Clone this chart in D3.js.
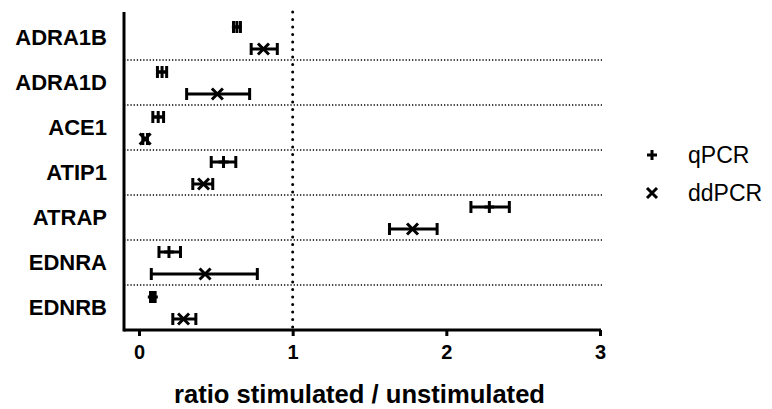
<!DOCTYPE html>
<html>
<head>
<meta charset="utf-8">
<script src="https://cdn.jsdelivr.net/npm/d3@7"></script>
<style>
  body { margin: 0; background: #fff; }
  svg { font-family: "Liberation Sans", Arial, sans-serif; }
</style>
</head>
<body>
<svg id="chart" width="772" height="409"></svg>
<script>
// --- data
const genes = ["ADRA1B", "ADRA1D", "ACE1", "ATIP1", "ATRAP", "EDNRA", "EDNRB"]
const qpcrMean = [0.637, 0.15, 0.125, 0.55, 2.28, 0.195, 0.09]
const qpcrLow  = [0.615, 0.12, 0.09, 0.47, 2.16, 0.13, 0.075]
const qpcrHigh = [0.66, 0.18, 0.16, 0.63, 2.41, 0.27, 0.105]
const ddMean = [0.81, 0.51, 0.04, 0.42, 1.78, 0.43, 0.29]
const ddLow  = [0.73, 0.31, 0.025, 0.35, 1.63, 0.08, 0.22]
const ddHigh = [0.90, 0.72, 0.055, 0.48, 1.94, 0.77, 0.37]
const xTicks = [0, 1, 2, 3]
const series = ["qPCR", "ddPCR"]

const svg = d3.select("#chart")

const x = d3.scaleLinear().domain([0, 3]).range([139, 600])
const y = d3.scaleBand().domain(genes).range([15, 330])
// within-row offsets for the two methods
const sub = d3.scalePoint().domain(series).range([12, 34])

// row separators
svg.append("g").selectAll("line")
  .data(genes.slice(1))
  .join("line")
  .attr("x1", 124).attr("x2", 602)
  .attr("y1", d => y(d)).attr("y2", d => y(d))
  .attr("stroke", "#000").attr("stroke-width", 1.3)
  .attr("stroke-dasharray", "1.3 1.9")

// reference line at ratio 1
svg.append("line")
  .attr("x1", x(1)).attr("x2", x(1))
  .attr("y1", 12).attr("y2", 330)
  .attr("stroke", "#000").attr("stroke-width", 3)
  .attr("stroke-linecap", "round")
  .attr("stroke-dasharray", "0 7.5")

// axes
const xAxis = d3.axisBottom(x).tickValues(xTicks).tickSize(6).tickPadding(9).tickFormat(d3.format("d"))
const gx = svg.append("g").attr("transform", "translate(0,330)").call(xAxis)
gx.select(".domain").attr("d", "M124,0H601").attr("stroke-width", 3)
gx.selectAll(".tick line").attr("stroke-width", 3)
gx.selectAll(".tick text").attr("font-size", 20).attr("font-weight", "bold").attr("fill", "#000")
  .attr("font-family", "Liberation Sans, Arial, sans-serif")

svg.append("line")
  .attr("x1", 124).attr("x2", 124).attr("y1", 12).attr("y2", 331.5)
  .attr("stroke", "#000").attr("stroke-width", 3)

// gene labels
svg.append("g").selectAll("text")
  .data(genes)
  .join("text")
  .attr("x", 107)
  .attr("y", d => y(d) + y.bandwidth() / 2)
  .attr("dy", "0.32em")
  .attr("text-anchor", "end")
  .attr("font-size", 22).attr("font-weight", "bold")
  .text(d => d)

svg.append("text")
  .attr("x", 174).attr("y", 403)
  .attr("font-size", 26).attr("font-weight", "bold")
  .attr("textLength", 371).attr("lengthAdjust", "spacingAndGlyphs")
  .text("ratio stimulated / unstimulated")

// error bars + markers
function markerPath(kind, cx, cy) {
  if (kind === "qPCR") {
    return `M${cx - 5},${cy}H${cx + 5}M${cx},${cy - 6}V${cy + 6}`
  }
  const r = 5.5
  return `M${cx - r},${cy - r}L${cx + r},${cy + r}M${cx - r},${cy + r}L${cx + r},${cy - r}`
}

const rows = []
genes.forEach((g, i) => {
  rows.push({ gene: g, kind: "qPCR", mean: qpcrMean[i], lo: qpcrLow[i], hi: qpcrHigh[i] })
  rows.push({ gene: g, kind: "ddPCR", mean: ddMean[i], lo: ddLow[i], hi: ddHigh[i] })
})

const cap = 6
const marks = svg.append("g").selectAll("g").data(rows).join("g")
marks.append("path")
  .attr("d", d => {
    const cy = y(d.gene) + sub(d.kind)
    const a = x(d.lo), b = x(d.hi)
    return `M${a},${cy}H${b}M${a},${cy - cap}V${cy + cap}M${b},${cy - cap}V${cy + cap}`
  })
  .attr("fill", "none").attr("stroke", "#000").attr("stroke-width", 3)
marks.append("path")
  .attr("d", d => markerPath(d.kind, x(d.mean), y(d.gene) + sub(d.kind)))
  .attr("fill", "none").attr("stroke", "#000").attr("stroke-width", 3)

// legend
const legend = svg.append("g").selectAll("g").data(series).join("g")
  .attr("transform", (d, i) => `translate(652,${155 + i * 38})`)
legend.append("path")
  .attr("d", d => d === "qPCR" ? "M-5,0H5M0,-5V5" : "M-5,-5L5,5M-5,5L5,-5")
  .attr("stroke", "#000").attr("stroke-width", 3)
legend.append("text")
  .attr("x", 36).attr("dy", "0.36em")
  .attr("font-size", 23)
  .text(d => d)
</script>
</body>
</html>
